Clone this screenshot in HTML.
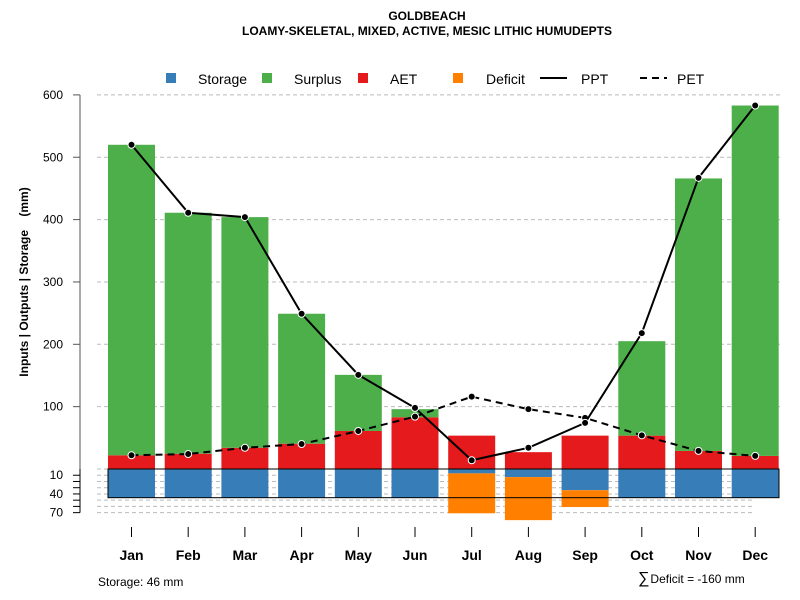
<!DOCTYPE html>
<html><head><meta charset="utf-8"><style>
body{margin:0;background:#fff;font-family:"Liberation Sans",sans-serif}
svg{display:block}
</style></head><body>
<svg id="c" width="800" height="600" xmlns="http://www.w3.org/2000/svg" font-family="Liberation Sans, sans-serif">
<text x="427" y="20" text-anchor="middle" font-size="12" font-weight="bold">GOLDBEACH</text>
<text x="427" y="35" text-anchor="middle" font-size="12" font-weight="bold">LOAMY-SKELETAL, MIXED, ACTIVE, MESIC LITHIC HUMUDEPTS</text>
<text transform="translate(28,282) rotate(-90)" text-anchor="middle" font-size="12" font-weight="bold" style="white-space:pre" xml:space="preserve">Inputs | Outputs | Storage    (mm)</text>
<g id="grid"></g><g id="bars"></g><g id="lines"></g><g id="axes"></g>
<g font-size="14">
<rect x="166" y="73" width="10" height="10" fill="#377eb8"/><text x="198" y="84">Storage</text>
<rect x="262" y="73" width="10" height="10" fill="#4daf4a"/><text x="294" y="84">Surplus</text>
<rect x="358" y="73" width="10" height="10" fill="#e41a1c"/><text x="390" y="84">AET</text>
<rect x="453" y="73" width="10" height="10" fill="#ff7f00"/><text x="486" y="84">Deficit</text>
<line x1="540" y1="78" x2="567" y2="78" stroke="#000" stroke-width="2"/><text x="581" y="84">PPT</text>
<line x1="640" y1="78" x2="667" y2="78" stroke="#000" stroke-width="2" stroke-dasharray="7,5"/><text x="677" y="84">PET</text>
</g>
<text x="98" y="586" font-size="12">Storage: 46 mm</text>
<text x="638" y="583" font-size="16">∑<tspan font-size="12" dx="1">Deficit = -160 mm</tspan></text>
</svg>
<script>
const months=["Jan","Feb","Mar","Apr","May","Jun","Jul","Aug","Sep","Oct","Nov","Dec"];
const aet=[22,24.5,34,40.6,61,83,53.5,27,53.5,53.5,29,21];
const surplus=[498,386.5,370,208.4,90,13,0,0,0,151.5,437,562];
const storage=[46,46,46,46,46,46,7,13,34,46,46,46];
const deficit=[0,0,0,0,0,0,64,69,27,0,0,0];
const ppt=[520,411,404,249,151,98,14,34,74,218,467,583];
const pet=[22,24,34,40,61,84,116,96,82,54,29,21];
const yTicks=[100,200,300,400,500,600];
const yNegTicks=[10,40,70];
const NS="http://www.w3.org/2000/svg";
const zeroY=469,k=0.6235;
const y=v=>zeroY-v*k;
const yn=v=>zeroY+v*k;
const xc=i=>131.5+i*56.7;
const bw=47;
function mk(p,t,a){const e=document.createElementNS(NS,t);for(const q in a)e.setAttribute(q,a[q]);document.getElementById(p).appendChild(e);return e;}
yTicks.forEach(v=>{const e=mk("grid","line",{x1:97,x2:783,y1:y(v),y2:y(v),stroke:"#bbb","stroke-dasharray":"4,3"});

});
for(let v=0;v<=70;v+=10){const e=mk("grid","line",{x1:97,x2:755,y1:yn(v),y2:yn(v),stroke:"#bbb","stroke-dasharray":"4,3"});

}
months.forEach((m,i)=>{
 const x=xc(i)-bw/2;
 let e=mk("bars","rect",{x:x,y:y(aet[i]),width:bw,height:aet[i]*k,fill:"#e41a1c"});
 
 
 if(surplus[i]>0){e=mk("bars","rect",{x:x,y:y(aet[i]+surplus[i]),width:bw,height:surplus[i]*k,fill:"#4daf4a"});
 
 }
 e=mk("bars","rect",{x:x,y:zeroY,width:bw,height:storage[i]*k,fill:"#377eb8"});
 
 
 if(deficit[i]>0){e=mk("bars","rect",{x:x,y:yn(storage[i]),width:bw,height:deficit[i]*k,fill:"#ff7f00"});
 
 }
});
let box=mk("bars","rect",{x:108,y:zeroY,width:671,height:46*k,fill:"none",stroke:"#000","stroke-width":1});


function series(vals,name,dash){
 const l=mk("lines","polyline",{points:vals.map((v,i)=>xc(i)+","+y(v)).join(" "),fill:"none",stroke:"#000","stroke-width":2});
 if(dash)l.setAttribute("stroke-dasharray","7,5");
 
 
 vals.forEach((v,i)=>{const c=mk("lines","circle",{cx:xc(i),cy:y(v),r:3.5,fill:"#000",stroke:"#fff","stroke-width":1});
 
 });
}
series(pet,"pet",true);
series(ppt,"ppt",false);
let ax=mk("axes","line",{x1:80,x2:80,y1:y(600),y2:y(0),stroke:"#555"});


yTicks.forEach(v=>{const t=mk("axes","line",{x1:73,x2:80,y1:y(v),y2:y(v),stroke:"#555"});


const tx=mk("axes","text",{x:63,y:y(v)+4,"text-anchor":"end","font-size":12});tx.textContent=v;

});
ax=mk("axes","line",{x1:80,x2:80,y1:zeroY,y2:yn(70),stroke:"#000"});


for(let v=10;v<=70;v+=10){const t=mk("axes","line",{x1:73,x2:80,y1:yn(v),y2:yn(v),stroke:"#000"});

}
yNegTicks.forEach(v=>{const tx=mk("axes","text",{x:63,y:yn(v)+4,"text-anchor":"end","font-size":12});tx.textContent=v;

});
months.forEach((m,i)=>{const t=mk("axes","line",{x1:xc(i),x2:xc(i),y1:527,y2:537,stroke:"#000"});


const tx=mk("axes","text",{x:xc(i),y:560,"text-anchor":"middle","font-size":14,"font-weight":"bold"});tx.textContent=m;

});
</script>
</body></html>
